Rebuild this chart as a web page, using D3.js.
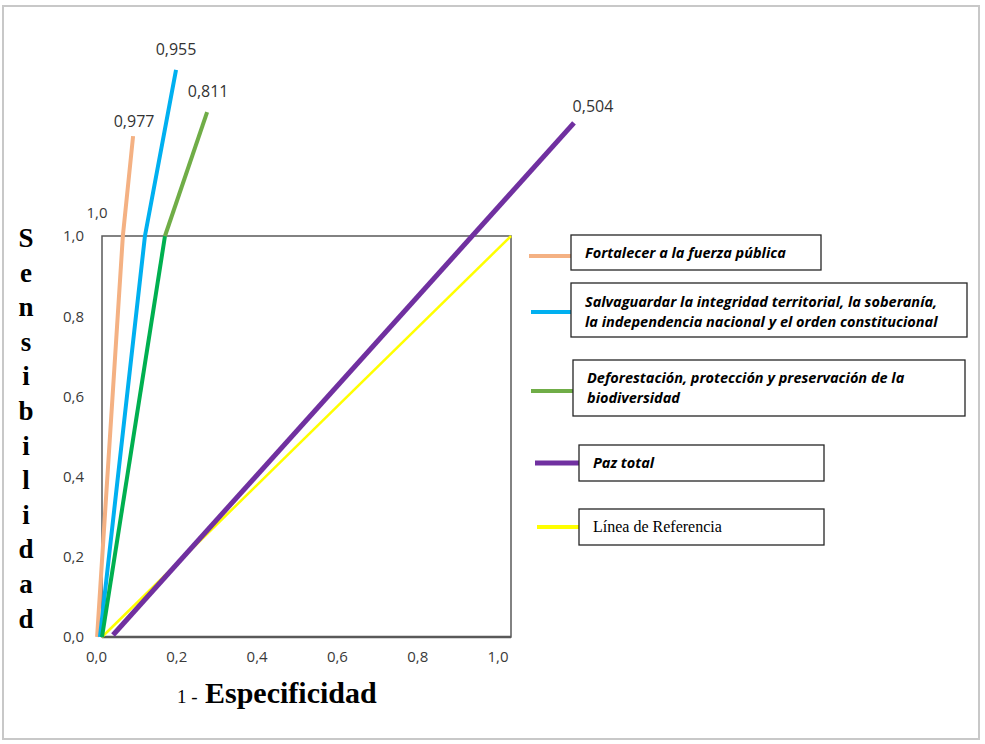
<!DOCTYPE html>
<html>
<head>
<meta charset="utf-8">
<script src="https://cdn.jsdelivr.net/npm/d3@7"></script>
<style>
  body { margin: 0; background: #fff; }
  svg { display: block; }
</style>
</head>
<body>
<svg id="chart" width="985" height="744"></svg>
<script>
// curvas ROC (x = 1 - especificidad, y = sensibilidad)
const seriesNames = [
    "Fortalecer a la fuerza pública",
    "Salvaguardar la integridad territorial, la soberanía, la independencia nacional y el orden constitucional",
    "Deforestación, protección y preservación de la biodiversidad",
    "Paz total",
    "Línea de Referencia"
];
const fortalecerPts = [[-0.012, 0], [0.051, 1.0], [0.076, 1.249]];
const salvaguardarPts = [[-0.005, 0], [0.105, 1.0], [0.181, 1.414]];
const deforestacionPts = [[0.0, 0], [0.154, 1.0], [0.257, 1.309]];
const pazPts = [[0.027, 0.005], [1.154, 1.282]];
const referenciaPts = [[0, 0], [1, 1]];
const aucLabels = ["0,977", "0,955", "0,811", "0,504", null];
const xTicks = [0, 0.2, 0.4, 0.6, 0.8, 1.0];
const yTicks = [0, 0.2, 0.4, 0.6, 0.8, 1.0];

const colors = ["#f4b183", "#00b0f0", "#00b050", "#7030a0", "#ffff00"];
const widths = [4, 4, 4, 5, 2.5];

const svgSpace = d3.select("#chart");
const largeur = 985, hauteur = 744;

const x = d3.scaleLinear().domain([0, 1]).range([102, 511]);
const y = d3.scaleLinear().domain([0, 1]).range([637, 236]);
const fmt = d => d3.format(".1f")(d).replace(".", ",");

// marco exterior
svgSpace.append("rect")
    .attr("x", 3).attr("y", 6)
    .attr("width", 976).attr("height", 733)
    .attr("fill", "none")
    .attr("stroke", "#c8c8c8")
    .attr("stroke-width", 2);

// caja del grafico
svgSpace.append("rect")
    .attr("x", x(0)).attr("y", y(1))
    .attr("width", x(1) - x(0)).attr("height", y(0) - y(1))
    .attr("fill", "none")
    .attr("stroke", "#595959")
    .attr("stroke-width", 1.5);
svgSpace.append("line")
    .attr("x1", x(0)).attr("x2", x(1))
    .attr("y1", y(0)).attr("y2", y(0))
    .attr("stroke", "#595959")
    .attr("stroke-width", 2.5);

// ejes
const xAxis = svgSpace.append("g")
    .attr("transform", `translate(0,${y(0)})`)
    .call(d3.axisBottom(x).tickValues(xTicks).tickFormat(fmt).tickSize(0).tickPadding(14));
const yAxis = svgSpace.append("g")
    .attr("transform", `translate(${x(0) - 14},0)`)
    .call(d3.axisLeft(y).tickValues(yTicks).tickFormat(fmt).tickSize(0).tickPadding(4));
[xAxis, yAxis].forEach(ax => {
    ax.select(".domain").remove();
    ax.selectAll("text")
        .attr("fill", "#3a3a3a")
        .style("font-family", "'Open Sans', sans-serif")
        .style("font-size", "15px");
});
xAxis.selectAll("text").attr("dx", (d, i) => -0.4 - i * 0.1 + "em");

// etiqueta suelta "1,0"
svgSpace.append("text")
    .text("1,0")
    .attr("x", 97).attr("y", 218)
    .attr("fill", "#3a3a3a")
    .style("font-family", "'Open Sans', sans-serif")
    .style("font-size", "15px")
    .style("text-anchor", "middle");

// titulos
const yTitle = "Sensibilidad".split("");
svgSpace.append("g")
    .selectAll("text")
    .data(yTitle)
    .enter()
    .append("text")
    .text(d => d)
    .attr("x", 26)
    .attr("y", (d, i) => 247 + i * 34.6)
    .attr("fill", "#000")
    .style("font-family", "'Liberation Serif', 'Times New Roman', serif")
    .style("font-weight", "bold")
    .style("font-size", "27px")
    .style("text-anchor", "middle");

svgSpace.append("text")
    .text("1 -")
    .attr("x", 177).attr("y", 703)
    .attr("fill", "#000")
    .style("font-family", "'Liberation Serif', serif")
    .style("font-size", "19px");
svgSpace.append("text")
    .text("Especificidad")
    .attr("x", 205).attr("y", 703)
    .attr("fill", "#000")
    .style("font-family", "'Liberation Serif', serif")
    .style("font-weight", "bold")
    .style("font-size", "30px");

// curvas
const line = d3.line().x(d => x(d[0])).y(d => y(d[1]));
const curves = [fortalecerPts, salvaguardarPts, deforestacionPts, pazPts, referenciaPts];
const drawOrder = [4, 0, 1, 2, 3];

drawOrder.forEach(i => {
    const pts = curves[i];
    if (i === 2) {
        // deforestacion: tramo inferior verde fuerte, tramo superior verde claro
        svgSpace.append("path").attr("d", line(pts.slice(0, 2)))
            .attr("fill", "none").attr("stroke", "#00b050").attr("stroke-width", widths[i]);
        svgSpace.append("path").attr("d", line(pts.slice(1)))
            .attr("fill", "none").attr("stroke", "#70ad47").attr("stroke-width", widths[i]);
    } else {
        svgSpace.append("path").attr("d", line(pts))
            .attr("fill", "none")
            .attr("stroke", colors[i])
            .attr("stroke-width", widths[i]);
    }
});

// etiquetas AUC al final de cada curva
const labelOffsets = [[1, -9], [0, -15], [1, -15], [19, -11]];
aucLabels.forEach((lab, i) => {
    if (!lab) return;
    const end = curves[i][curves[i].length - 1];
    svgSpace.append("text")
        .text(lab)
        .attr("x", x(end[0]) + labelOffsets[i][0])
        .attr("y", y(end[1]) + labelOffsets[i][1])
        .attr("fill", "#333")
        .style("font-family", "'Open Sans', sans-serif")
        .style("font-size", "16px")
        .style("text-anchor", "middle");
});

// leyenda
const legendLines = [
    ["Fortalecer a la fuerza pública"],
    ["Salvaguardar la integridad territorial, la soberanía,", "la independencia nacional y el orden constitucional"],
    ["Deforestación, protección y preservación de la", "biodiversidad"],
    ["Paz total"],
    ["Línea de Referencia"]
];
const legendBoxes = [
    { left: 571, right: 821, top: 235, bottom: 270, stubX: 529, stubY: 256, base: 23 },
    { left: 571, right: 967, top: 283, bottom: 337, stubX: 531, stubY: 312, base: 24 },
    { left: 573, right: 965, top: 360, bottom: 416, stubX: 531, stubY: 391, base: 23 },
    { left: 579, right: 824, top: 445, bottom: 481, stubX: 535, stubY: 463, base: 23 },
    { left: 579, right: 824, top: 509, bottom: 545, stubX: 537, stubY: 527, base: 23 }
];

legendBoxes.forEach((b, i) => {
    const g = svgSpace.append("g").attr("class", "legendItem");
    g.append("line")
        .attr("x1", b.stubX).attr("x2", b.left)
        .attr("y1", b.stubY).attr("y2", b.stubY)
        .attr("stroke", i === 2 ? "#70ad47" : colors[i])
        .attr("stroke-width", i === 4 ? 4 : widths[i]);
    g.append("rect")
        .attr("x", b.left).attr("y", b.top)
        .attr("width", b.right - b.left).attr("height", b.bottom - b.top)
        .attr("fill", "#fff")
        .attr("stroke", "#262626")
        .attr("stroke-width", 1.3);
    const serif = i === 4;
    g.selectAll("text")
        .data(legendLines[i])
        .enter()
        .append("text")
        .text(d => d)
        .attr("x", b.left + 14)
        .attr("y", (d, k) => b.top + b.base + k * 20)
        .attr("fill", "#000")
        .style("font-family", serif ? "'Liberation Serif', serif" : "'Open Sans', sans-serif")
        .style("font-style", serif ? "normal" : "italic")
        .style("font-weight", serif ? "normal" : "bold")
        .style("font-size", serif ? "16px" : "14.5px");
});
</script>
</body>
</html>
